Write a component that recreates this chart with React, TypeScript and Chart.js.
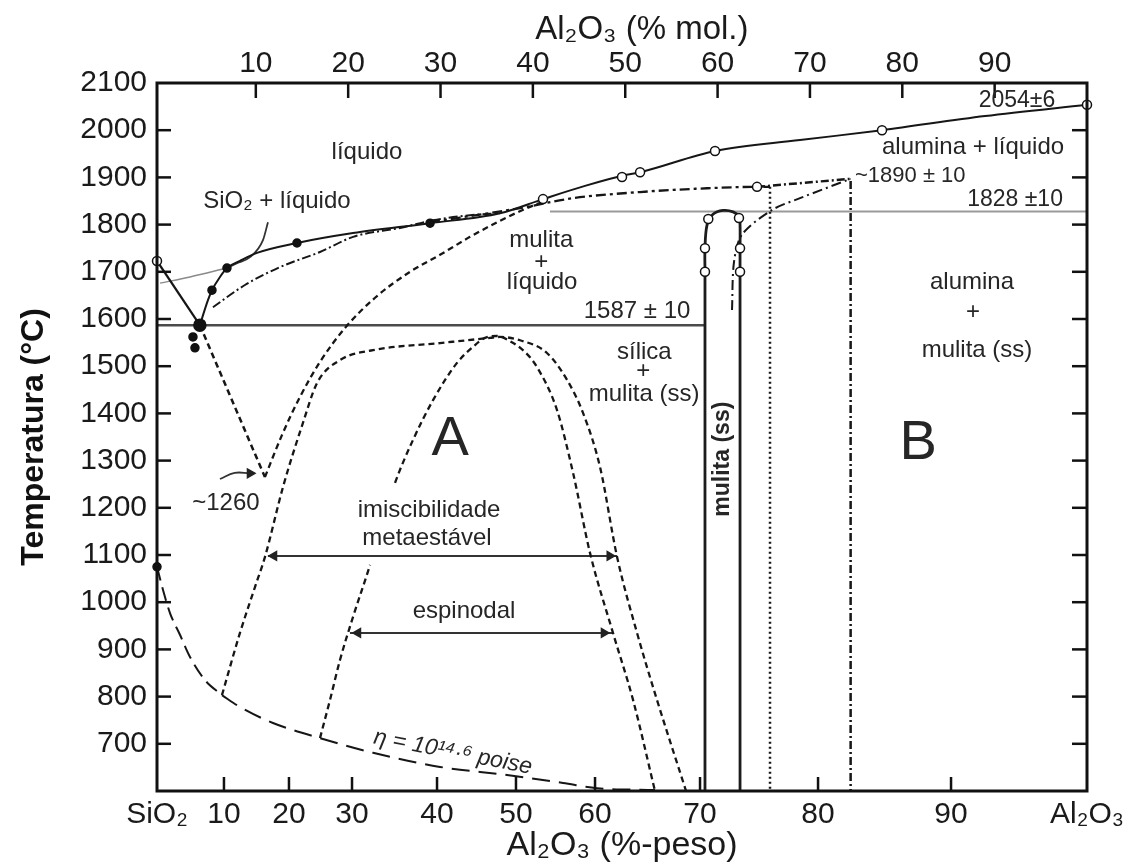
import React, { useEffect, useRef } from 'react';
import { Chart, registerables, LinearScale } from 'chart.js';

Chart.register(...registerables);

const FONT = "'Liberation Sans', Arial, Helvetica, sans-serif";

// ---------------- axes ----------------
const tempTicks = [600, 700, 800, 900, 1000, 1100, 1200, 1300, 1400, 1500, 1600, 1700, 1800, 1900, 2000, 2100];
const molTicks = [10, 20, 30, 40, 50, 60, 70, 80, 90];
const wtTicks = [0, 10, 20, 30, 40, 50, 60, 70, 80, 90, 100];
const wtTickLabels = ['SiO₂', '10', '20', '30', '40', '50', '60', '70', '80', '90', 'Al₂O₃'];
// position of each wt% tick along the (non-linear) bottom axis (fraction of width)
const wtTickFraction = [0, 0.072, 0.1419, 0.2097, 0.3011, 0.386, 0.471, 0.5839, 0.7108, 0.8538, 1];

// ---------------- curves: [Al2O3 wt%, T °C] ----------------
const silicaLiquidus = [[0, 1723], [6.4, 1587]];
const silicaLiquidusMeta = [[6.4, 1587], [16.3, 1265]];
const mulliteLiquidusMeta = [[16.3, 1265], [18.92, 1354], [21.75, 1435], [24.92, 1509], [28.89, 1581], [32.71, 1645], [36.82, 1700], [40.38, 1736], [44.18, 1774], [47.97, 1808], [51.39, 1835], [53.67, 1850]];
const liquidus = [[6.4, 1587], [7.61, 1640], [8.21, 1661], [9.4, 1689], [10.46, 1708], [12.46, 1723], [15.08, 1740], [21.27, 1761], [30.12, 1782], [39.18, 1803], [47.97, 1824], [53.42, 1854], [58.73, 1882], [62.86, 1905], [64.29, 1911], [71.27, 1956], [78.47, 1979], [84.81, 2000], [92.5, 2030], [100, 2054]];
const liquidusGrey = [[0.45, 1676], [4.93, 1689], [10.46, 1708]];
const liquidusLowDashDot = [[8.36, 1625], [13.23, 1672], [18.62, 1710], [24.92, 1742], [30.12, 1774], [35.65, 1793], [39.53, 1809], [44.18, 1820], [47.97, 1824]];
const mulliteLiquidusUpper = [[39.18, 1805], [50.51, 1835], [57.22, 1856], [64.29, 1869], [70.59, 1877], [74.83, 1880], [75.93, 1880]];
const dottedBoundary = [[75.93, 1880], [75.93, 600]];
const dashDotBoundary = [[74.83, 1880], [82.45, 1897], [82.45, 600]];
const dashDotLiquidus = [[72.71, 1619], [72.88, 1721], [73.56, 1779], [76.1, 1831], [78.47, 1856], [82.45, 1897]];
const mulliteSS = [[70.42, 600], [70.42, 1700], [70.42, 1750], [70.6, 1800], [71.1, 1822], [71.95, 1830], [72.8, 1827], [73.3, 1817], [73.39, 1800], [73.39, 1750], [73.39, 1700], [73.39, 600]];
const eutectic1587 = [[0, 1587], [70.42, 1587]];
const eutectic1828 = [[54.3, 1828], [100, 1828]];
const immiscibilityDome = [[9.7, 803], [12.46, 935], [14.77, 1032], [16.31, 1096], [19.08, 1244], [22.22, 1380], [24.44, 1464], [28.1, 1513], [32.47, 1534], [40.38, 1549], [46.71, 1560], [47.97, 1562], [50.51, 1555], [53.92, 1528], [56.46, 1471], [58.48, 1401], [60.48, 1286], [62.1, 1096], [64.0, 935], [65.9, 793], [68.67, 600]];
const spinodal = [[24.92, 712], [26.51, 793], [28.1, 878], [30.12, 969], [32.12, 1079], [33.65, 1174], [35.06, 1253], [37.18, 1344], [39.53, 1428], [42.53, 1507], [44.56, 1541], [46.08, 1560], [47.59, 1564], [49.24, 1553], [51.14, 1530], [52.66, 1498], [55.19, 1407], [57.22, 1274], [59.37, 1104], [61.71, 935], [63.62, 793], [65.71, 600]];
const viscosityHigh = [[0, 1075], [0.9, 1026], [1.94, 977], [3.43, 931], [4.93, 884], [7.16, 835], [9.7, 803]];
const viscosityLow = [[9.7, 803], [12.46, 778], [17.54, 744], [24.92, 712], [32.47, 681], [40.38, 651], [48.86, 634], [55.95, 617], [60.19, 606], [65.71, 602]];

// arrows / pointers
const immiscibilityArrow = [[16.77, 1098], [62.1, 1098]];
const spinodalArrow = [[29.68, 935], [61.62, 935]];
const arrow1260 = [[9.4, 1261], [11.64, 1274], [14.0, 1273]];
const silicaPointer = [[16.77, 1805], [16.0, 1767], [14.0, 1731], [12.01, 1718], [10.46, 1708]];
const arrowHeadsRight = [[61.4, 1098], [60.85, 935], [14.0, 1273]];
const arrowHeadsLeft = [[17.7, 1098], [30.7, 935]];

// experimental points
const openCircles = [[0, 1723], [53.42, 1854], [62.57, 1901], [64.29, 1911], [71.27, 1956], [84.81, 2000], [100, 2054], [74.83, 1880], [70.42, 1700], [70.42, 1750], [70.7, 1812], [73.3, 1814], [73.39, 1750], [73.39, 1700]];
const filledDots = [[8.21, 1661], [10.46, 1708], [21.27, 1761], [39.18, 1803], [5.37, 1562], [5.67, 1539], [0, 1075]];
const eutecticBlob = [[6.4, 1587]];

// ---------------- text annotations ----------------
const textLabels = [
  { text: 'líquido', x: 31.76, y: 1954 },
  { text: 'SiO₂ + líquido', x: 18.15, y: 1850 },
  { text: 'mulita', x: 53.2, y: 1767 },
  { text: '+', x: 53.2, y: 1721 },
  { text: 'líquido', x: 53.3, y: 1678 },
  { text: '1587 ± 10', x: 64.0, y: 1617 },
  { text: 'sílica', x: 64.7, y: 1530 },
  { text: '+', x: 64.6, y: 1488 },
  { text: 'mulita (ss)', x: 64.67, y: 1441 },
  { text: 'mulita (ss)', x: 71.9, y: 1303, rotate: -90, bold: true, size: 23 },
  { text: 'A', x: 41.65, y: 1344, size: 56 },
  { text: 'B', x: 87.52, y: 1337, size: 56 },
  { text: 'imiscibilidade', x: 39.06, y: 1195 },
  { text: 'metaestável', x: 38.82, y: 1136 },
  { text: 'espinodal', x: 43.42, y: 981 },
  { text: '~1260', x: 10.3, y: 1210 },
  { text: 'alumina + líquido', x: 91.62, y: 1964 },
  { text: '~1890 ± 10', x: 82.78, y: 1903, align: 'left', size: 22 },
  { text: '1828 ±10', x: 94.71, y: 1852, size: 23 },
  { text: '2054±6', x: 94.85, y: 2062, size: 23 },
  { text: 'alumina', x: 91.54, y: 1678 },
  { text: '+', x: 91.62, y: 1615 },
  { text: 'mulita (ss)', x: 91.91, y: 1534 },
  { text: 'η = 10¹⁴·⁶ poise', x: 42.0, y: 682, rotate: 11, italic: true, size: 23 },
];

function interp(xs: number[], ys: number[], v: number) {
  const n = xs.length - 1;
  if (v <= xs[0]) return ys[0] + ((v - xs[0]) * (ys[1] - ys[0])) / (xs[1] - xs[0]);
  for (let i = 1; i <= n; i++) {
    if (v <= xs[i]) {
      const t = (v - xs[i - 1]) / (xs[i] - xs[i - 1]);
      return ys[i - 1] + t * (ys[i] - ys[i - 1]);
    }
  }
  return ys[n] + ((v - xs[n]) * (ys[n] - ys[n - 1])) / (xs[n] - xs[n - 1]);
}

class WtPercentScale extends LinearScale {
  static id = 'wtpercent';
  static defaults = {};
  getPixelForValue(value: any) {
    if (value === null || value === undefined || Number.isNaN(+value)) return NaN;
    return this.getPixelForDecimal(interp(wtTicks, wtTickFraction, +value));
  }
  getValueForPixel(pixel: number) {
    return interp(wtTickFraction, wtTicks, this.getDecimalForPixel(pixel));
  }
}
Chart.register(WtPercentScale as any);

const pts = (arr: number[][]) => arr.map(([x, y]) => ({ x, y }));

function curve(arr: number[][], opts: any = {}) {
  return {
    data: pts(arr),
    showLine: true,
    pointRadius: 0,
    pointHoverRadius: 0,
    borderColor: '#161616',
    borderWidth: 2,
    fill: false,
    tension: 0,
    xAxisID: 'x',
    yAxisID: 'y',
    ...opts,
  };
}

function markers(arr: number[][], opts: any = {}) {
  return {
    data: pts(arr),
    showLine: false,
    pointRadius: 4.5,
    pointHoverRadius: 4.5,
    pointStyle: 'circle',
    pointBackgroundColor: '#fff',
    pointBorderColor: '#111',
    pointBorderWidth: 1.5,
    clip: false,
    xAxisID: 'x',
    yAxisID: 'y',
    ...opts,
  };
}

const framePlugin = {
  id: 'frameAndText',
  afterDatasetsDraw(chart: any) {
    const { ctx, chartArea: a, scales } = chart;
    const xs = scales.x;
    const xm = scales.xMol;
    const ys = scales.y;
    ctx.save();
    const seg = (x1: number, y1: number, x2: number, y2: number) => {
      ctx.beginPath();
      ctx.moveTo(x1, y1);
      ctx.lineTo(x2, y2);
      ctx.stroke();
    };
    ctx.strokeStyle = '#111';
    ctx.lineWidth = 2.5;
    ys.ticks.forEach((t: any, i: number) => {
      if (t.value <= 600 || t.value >= 2100) return;
      const y = ys.getPixelForTick(i);
      seg(a.left, y, a.left + 14, y);
      seg(a.right, y, a.right - 15, y);
    });
    xm.ticks.forEach((t: any, i: number) => {
      const x = xm.getPixelForTick(i);
      seg(x, a.top, x, a.top + 15);
    });
    xs.ticks.forEach((t: any, i: number) => {
      if (t.value <= 0 || t.value >= 100) return;
      const x = xs.getPixelForTick(i);
      seg(x, a.bottom, x, a.bottom - 14);
    });
    ctx.lineWidth = 3;
    ctx.strokeRect(a.left, a.top, a.right - a.left, a.bottom - a.top);

    // annotations
    ctx.fillStyle = '#262626';
    textLabels.forEach((l: any) => {
      const px = xs.getPixelForValue(l.x);
      const py = ys.getPixelForValue(l.y);
      const size = l.size || 24;
      ctx.save();
      ctx.translate(px, py);
      if (l.rotate) ctx.rotate((l.rotate * Math.PI) / 180);
      ctx.font = `${l.italic ? 'italic ' : ''}${l.bold ? 'bold ' : ''}${size}px ${FONT}`;
      ctx.textAlign = l.align || 'center';
      ctx.textBaseline = 'middle';
      ctx.fillText(l.text, 0, 0);
      ctx.restore();
    });

    // top axis title
    ctx.font = `33px ${FONT}`;
    ctx.textAlign = 'center';
    ctx.textBaseline = 'middle';
    ctx.fillStyle = '#1a1a1a';
    ctx.fillText('Al₂O₃ (% mol.)', xm.getPixelForValue(51.8), xm.top + 30);
    ctx.restore();
  },
};

export default function App() {
  const ref = useRef<HTMLCanvasElement | null>(null);
  useEffect(() => {
    if (!ref.current) return;
    const dashed = [6, 4];
    const dashDot = [9, 3, 2, 3];
    const chart = new Chart(ref.current, {
      type: 'scatter',
      data: {
        datasets: [
          markers(eutecticBlob, { pointRadius: 6, pointBackgroundColor: '#111' }),
          markers(filledDots, { pointRadius: 4, pointBackgroundColor: '#111' }),
          markers(openCircles),
          markers(arrowHeadsRight, { pointStyle: 'triangle', pointRotation: 90, pointRadius: 5, pointBackgroundColor: '#222', pointBorderColor: '#222' }),
          markers(arrowHeadsLeft, { pointStyle: 'triangle', pointRotation: -90, pointRadius: 5, pointBackgroundColor: '#222', pointBorderColor: '#222' }),
          curve(silicaLiquidus, { borderWidth: 2.2 }),
          curve(silicaLiquidusMeta, { borderDash: dashed, borderWidth: 2.5 }),
          curve(mulliteLiquidusMeta, { borderDash: dashed, borderWidth: 2.3, cubicInterpolationMode: 'monotone' }),
          curve(liquidus, { borderWidth: 2, cubicInterpolationMode: 'monotone' }),
          curve(liquidusGrey, { borderWidth: 1.5, borderColor: '#8a8a8a', cubicInterpolationMode: 'monotone' }),
          curve(liquidusLowDashDot, { borderDash: dashDot, borderWidth: 2, cubicInterpolationMode: 'monotone' }),
          curve(mulliteLiquidusUpper, { borderDash: [10, 4, 3, 4], borderWidth: 2.3, cubicInterpolationMode: 'monotone' }),
          curve(dottedBoundary, { borderDash: [2, 3], borderWidth: 2.5 }),
          curve(dashDotBoundary, { borderDash: [8, 3, 2, 3], borderWidth: 2.5 }),
          curve(dashDotLiquidus, { borderDash: [10, 4, 2, 4], borderWidth: 2, tension: 0.3 }),
          curve(mulliteSS, { borderWidth: 2.8, tension: 0.35, borderColor: '#1c1c1c' }),
          curve(eutectic1587, { borderWidth: 2.5, borderColor: '#4a4a4a' }),
          curve(eutectic1828, { borderWidth: 2, borderColor: '#9a9a9a' }),
          curve(immiscibilityDome, { borderDash: dashed, borderWidth: 2.3, cubicInterpolationMode: 'monotone' }),
          curve(spinodal, {
            borderDash: dashed,
            borderWidth: 2.3,
            cubicInterpolationMode: 'monotone',
            segment: { borderColor: (c: any) => (c.p0DataIndex === 4 || c.p0DataIndex === 5 ? 'rgba(0,0,0,0)' : undefined) },
          }),
          curve(viscosityHigh, { borderDash: [14, 7], borderWidth: 2, cubicInterpolationMode: 'monotone' }),
          curve(viscosityLow, { borderDash: [18, 9], borderWidth: 2, cubicInterpolationMode: 'monotone' }),
          curve(immiscibilityArrow, { borderWidth: 2, borderColor: '#333' }),
          curve(spinodalArrow, { borderWidth: 2, borderColor: '#333' }),
          curve(arrow1260, { borderWidth: 1.8, borderColor: '#333', tension: 0.4 }),
          curve(silicaPointer, { borderWidth: 1.8, borderColor: '#333', cubicInterpolationMode: 'monotone' }),
        ],
      },
      options: {
        animation: false,
        responsive: false,
        maintainAspectRatio: false,
        devicePixelRatio: 1,
        events: [],
        layout: { padding: { left: 0, right: 48, top: 0, bottom: 0 } },
        plugins: { legend: { display: false }, tooltip: { enabled: false }, title: { display: false } },
        scales: {
          x: {
            type: 'wtpercent',
            position: 'bottom',
            min: 0,
            max: 100,
            afterBuildTicks: (s: any) => {
              s.ticks = wtTicks.map((v) => ({ value: v }));
            },
            afterFit: (s: any) => {
              s.height = 77;
            },
            grid: { display: false, drawTicks: false },
            border: { display: false },
            ticks: {
              autoSkip: false,
              maxRotation: 0,
              minRotation: 0,
              padding: 6,
              color: '#1a1a1a',
              font: { family: FONT, size: 30 },
              callback: (_v: any, i: number) => wtTickLabels[i],
            },
            title: { display: true, text: 'Al₂O₃ (%-peso)', color: '#1a1a1a', font: { family: FONT, size: 34 }, padding: { top: 0, bottom: 2 } },
          },
          xMol: {
            type: 'linear',
            position: 'top',
            min: -0.7,
            max: 100,
            afterBuildTicks: (s: any) => {
              s.ticks = molTicks.map((v) => ({ value: v }));
            },
            afterFit: (s: any) => {
              s.height = 83;
            },
            grid: { display: false, drawTicks: false },
            border: { display: false },
            ticks: { autoSkip: false, maxRotation: 0, minRotation: 0, padding: 1, color: '#1a1a1a', font: { family: FONT, size: 30 } },
          },
          y: {
            type: 'linear',
            position: 'left',
            min: 600,
            max: 2100,
            afterBuildTicks: (s: any) => {
              s.ticks = tempTicks.map((v) => ({ value: v }));
            },
            afterFit: (s: any) => {
              s.width = 157;
            },
            grid: { display: false, drawTicks: false },
            border: { display: false },
            ticks: {
              autoSkip: false,
              padding: 10,
              color: '#1a1a1a',
              font: { family: FONT, size: 30 },
              callback: (v: any) => (v === 600 ? '' : String(v)),
            },
            title: { display: true, text: 'Temperatura (°C)', color: '#111', font: { family: FONT, size: 32, weight: 'bold' }, padding: { top: 15, bottom: 0 } },
          },
        },
      },
      plugins: [framePlugin],
    } as any);
    return () => chart.destroy();
  }, []);

  return (
    <div style={{ position: 'fixed', left: 0, top: 0, width: 1135, height: 868, background: '#fff' }}>
      <canvas ref={ref} width={1135} height={868} style={{ display: 'block', width: 1135, height: 868 }} />
    </div>
  );
}
